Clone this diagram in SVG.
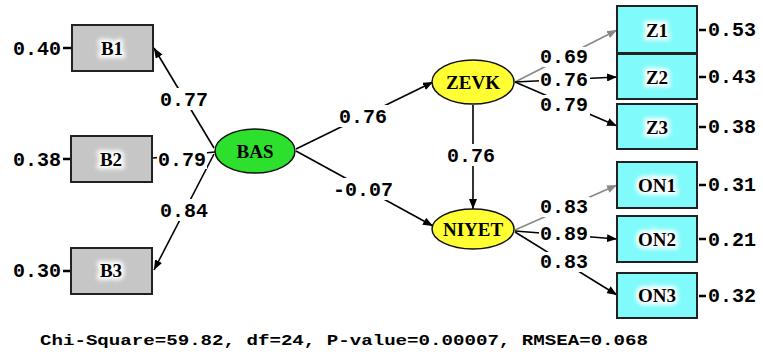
<svg xmlns="http://www.w3.org/2000/svg" width="763" height="356" viewBox="0 0 763 356">
<defs>
<style>
.conn{stroke:#000;stroke-width:1.6;fill:none}
.gray{stroke:#888;stroke-width:1.6;fill:none}
.stub{stroke:#000;stroke-width:2.5}
.lbl{font-family:"Liberation Mono","Courier New",monospace;font-weight:bold;font-size:20px;fill:#000}
.bg{fill:#fff}
.box{fill:#c6c6c6;stroke:#222;stroke-width:2}
.cbox{fill:#80fafa;stroke:#222;stroke-width:2}
.green{fill:#2ee02e;stroke:#111;stroke-width:1.5}
.yellow{fill:#ffff33;stroke:#111;stroke-width:1.5}
.name{font-family:"Liberation Serif","Times New Roman",serif;font-weight:bold;font-size:19px;fill:#000;text-anchor:middle}
.glow{font-family:"Liberation Serif","Times New Roman",serif;font-weight:bold;font-size:19px;fill:#fff;stroke:#fff;stroke-width:6;text-anchor:middle;filter:url(#blur)}
.foot{font-family:"Liberation Mono","Courier New",monospace;font-weight:bold;font-size:14px;fill:#000}
</style>
<filter id="blur" x="-30%" y="-50%" width="160%" height="200%"><feGaussianBlur stdDeviation="2"/></filter>
<marker id="ah" viewBox="0 0 10 8" refX="10" refY="4" markerWidth="10" markerHeight="8" markerUnits="userSpaceOnUse" orient="auto"><path d="M0,0 L10,4 L0,8 Z" fill="#000"/></marker>
<marker id="ahg" viewBox="0 0 10 8" refX="10" refY="4" markerWidth="10" markerHeight="8" markerUnits="userSpaceOnUse" orient="auto"><path d="M0,0 L10,4 L0,8 Z" fill="#888"/></marker>
</defs>
<rect width="763" height="356" fill="#fff"/>
<g id="connectors">
<line class="conn" x1="214" y1="148" x2="154" y2="48" marker-end="url(#ah)"/>
<line class="conn" x1="215" y1="152" x2="153" y2="158"/>
<line class="conn" x1="214" y1="154" x2="154" y2="270" marker-end="url(#ah)"/>
<line class="conn" x1="296" y1="149" x2="433" y2="82" marker-end="url(#ah)"/>
<line class="conn" x1="296" y1="151" x2="433" y2="226" marker-end="url(#ah)"/>
<line class="conn" x1="473" y1="105" x2="473" y2="209" marker-end="url(#ah)"/>
<line class="gray" x1="515" y1="82" x2="617" y2="30" marker-end="url(#ahg)"/>
<line class="conn" x1="515" y1="82" x2="617" y2="77" marker-end="url(#ah)"/>
<line class="conn" x1="515" y1="82" x2="617" y2="126" marker-end="url(#ah)"/>
<line class="gray" x1="515" y1="230" x2="617" y2="185" marker-end="url(#ahg)"/>
<line class="conn" x1="515" y1="231" x2="617" y2="239" marker-end="url(#ah)"/>
<line class="conn" x1="515" y1="232" x2="617" y2="295" marker-end="url(#ah)"/>
<line class="stub" x1="63" y1="48" x2="71" y2="48"/>
<line class="stub" x1="63" y1="159" x2="71" y2="159"/>
<line class="stub" x1="63" y1="271" x2="71" y2="271"/>
<line class="stub" x1="699" y1="30" x2="706" y2="30"/>
<line class="stub" x1="699" y1="77" x2="706" y2="77"/>
<line class="stub" x1="699" y1="127" x2="706" y2="127"/>
<line class="stub" x1="699" y1="185" x2="706" y2="185"/>
<line class="stub" x1="699" y1="239" x2="706" y2="239"/>
<line class="stub" x1="699" y1="296" x2="706" y2="296"/>
</g>
<g id="labels">
<rect class="bg" x="158" y="88" width="52" height="22"/>
<text class="lbl" x="160" y="106">0.77</text>
<rect class="bg" x="157" y="147" width="50" height="22"/>
<text class="lbl" x="158" y="166">0.79</text>
<rect class="bg" x="158" y="199" width="52" height="22"/>
<text class="lbl" x="160" y="217">0.84</text>
<rect class="bg" x="337" y="105" width="54" height="22"/>
<text class="lbl" x="339" y="123">0.76</text>
<rect class="bg" x="331" y="178" width="66" height="22"/>
<text class="lbl" x="333" y="196">-0.07</text>
<rect class="bg" x="445" y="144" width="56" height="22"/>
<text class="lbl" x="447" y="162">0.76</text>
<rect class="bg" x="539" y="47" width="51" height="20"/>
<text class="lbl" x="540" y="63">0.69</text>
<rect class="bg" x="539" y="71" width="51" height="19"/>
<text class="lbl" x="540" y="86">0.76</text>
<rect class="bg" x="539" y="95" width="51" height="20"/>
<text class="lbl" x="540" y="111">0.79</text>
<rect class="bg" x="539" y="197" width="51" height="20"/>
<text class="lbl" x="540" y="213">0.83</text>
<rect class="bg" x="539" y="225" width="51" height="19"/>
<text class="lbl" x="540" y="240">0.89</text>
<rect class="bg" x="539" y="252" width="51" height="20"/>
<text class="lbl" x="540" y="268">0.83</text>
<text class="lbl" x="13" y="55">0.40</text>
<text class="lbl" x="13" y="166">0.38</text>
<text class="lbl" x="13" y="277">0.30</text>
<text class="lbl" x="708" y="36">0.53</text>
<text class="lbl" x="708" y="83">0.43</text>
<text class="lbl" x="708" y="133">0.38</text>
<text class="lbl" x="708" y="191">0.31</text>
<text class="lbl" x="708" y="246">0.21</text>
<text class="lbl" x="708" y="302">0.32</text>
</g>
<g id="B1"><rect class="box" x="72" y="25" width="81" height="46"/><text class="glow" x="112" y="55">B1</text><text class="name" x="112" y="55">B1</text></g>
<g id="B2"><rect class="box" x="71" y="136" width="81" height="46"/><text class="glow" x="111" y="166">B2</text><text class="name" x="111" y="166">B2</text></g>
<g id="B3"><rect class="box" x="71" y="248" width="81" height="46"/><text class="glow" x="111" y="277">B3</text><text class="name" x="111" y="277">B3</text></g>
<g id="BAS"><ellipse class="green" cx="255" cy="151" rx="40" ry="22"/><text class="name" x="255" y="158">BAS</text></g>
<g id="ZEVK"><ellipse class="yellow" cx="473" cy="82" rx="41" ry="22"/><text class="name" x="473" y="89">ZEVK</text></g>
<g id="NIYET"><ellipse class="yellow" cx="473" cy="229" rx="41" ry="20"/><text class="name" x="473" y="236">NIYET</text></g>
<g id="Z1"><rect class="cbox" x="617" y="6" width="80" height="47"/><text class="glow" x="657" y="37">Z1</text><text class="name" x="657" y="37">Z1</text></g>
<g id="Z2"><rect class="cbox" x="617" y="54" width="80" height="45"/><text class="glow" x="657" y="84">Z2</text><text class="name" x="657" y="84">Z2</text></g>
<g id="Z3"><rect class="cbox" x="617" y="104" width="80" height="45"/><text class="glow" x="657" y="134">Z3</text><text class="name" x="657" y="134">Z3</text></g>
<g id="ON1"><rect class="cbox" x="617" y="162" width="80" height="46"/><text class="glow" x="657" y="192">ON1</text><text class="name" x="657" y="192">ON1</text></g>
<g id="ON2"><rect class="cbox" x="617" y="216" width="80" height="46"/><text class="glow" x="657" y="246">ON2</text><text class="name" x="657" y="246">ON2</text></g>
<g id="ON3"><rect class="cbox" x="617" y="273" width="80" height="45"/><text class="glow" x="657" y="302">ON3</text><text class="name" x="657" y="302">ON3</text></g>
<text class="foot" x="40" y="345" textLength="608" lengthAdjust="spacingAndGlyphs">Chi-Square=59.82, df=24, P-value=0.00007, RMSEA=0.068</text>
</svg>
